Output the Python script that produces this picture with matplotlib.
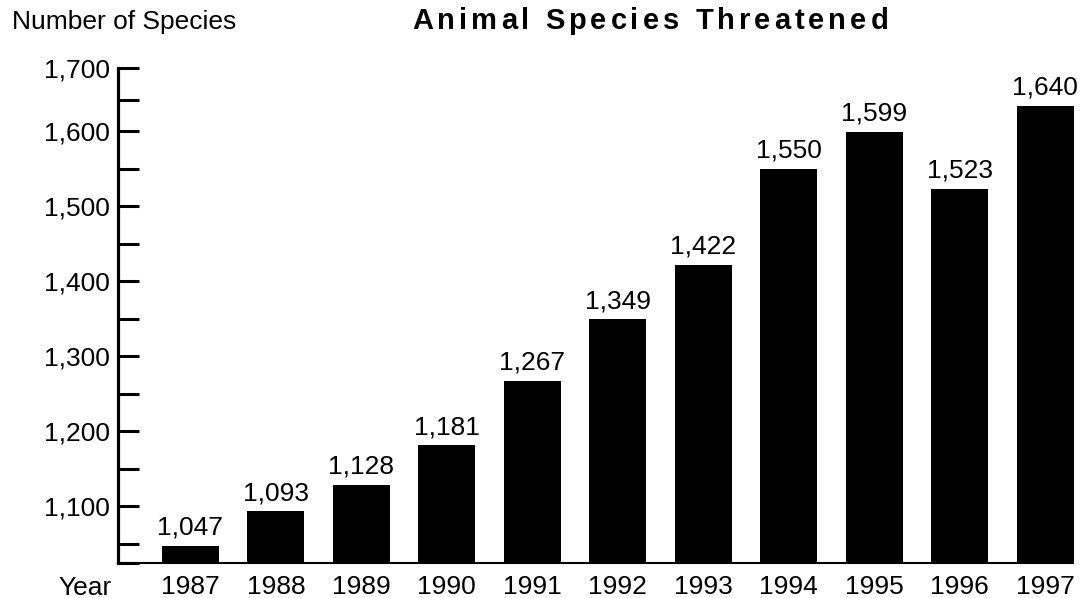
import matplotlib
matplotlib.use("Agg")
import matplotlib.pyplot as plt
import numpy as np
from matplotlib.ticker import FixedLocator
from matplotlib.font_manager import FontProperties

years = ["1987", "1988", "1989", "1990", "1991", "1992", "1993", "1994", "1995", "1996", "1997"]
species = [1047, 1093, 1128, 1181, 1267, 1349, 1422, 1550, 1599, 1523, 1640]
value_labels = ["1,047", "1,093", "1,128", "1,181", "1,267", "1,349", "1,422", "1,550", "1,599", "1,523", "1,640"]
y_ticks = [1100, 1200, 1300, 1400, 1500, 1600, 1700]
y_tick_labels = ["1,100", "1,200", "1,300", "1,400", "1,500", "1,600", "1,700"]
y_minor = [1050, 1150, 1250, 1350, 1450, 1550, 1650]

plt.rcParams['font.family'] = ['Liberation Sans', 'DejaVu Sans']
FS = 19

W, H = 1085, 598
fig = plt.figure(figsize=(W / 100, H / 100), dpi=100)
ax = fig.add_axes([118 / W, 1 - 563 / H, (1075 - 118) / W, (563 - 68) / H])

# the reference compresses the top segment of the axis (1,600 - 1,700)
K = 0.84
def fwd(y):
    y = np.asarray(y, dtype=float)
    return np.where(y <= 1600, y, 1600 + (y - 1600) * K)
def inv(y):
    y = np.asarray(y, dtype=float)
    return np.where(y <= 1600, y, 1600 + (y - 1600) / K)
ax.set_yscale('function', functions=(fwd, inv))

x = list(range(len(years)))
ax.bar(x, species, width=0.667, color="black")
ax.set_ylim(1024, 1700)
ax.set_xlim(-0.848, 10.35)

for xi, v, lab in zip(x, species, value_labels):
    ax.annotate(lab, (xi, v), xytext=(0, 4.5), textcoords="offset points",
                ha="center", va="bottom", fontsize=FS)

for s in ["top", "right"]:
    ax.spines[s].set_visible(False)
ax.spines["left"].set_linewidth(2.3)
ax.spines["bottom"].set_linewidth(1.5)
ax.spines["bottom"].set_bounds(-0.848, 10.33)

ax.yaxis.set_major_locator(FixedLocator(y_ticks))
ax.set_yticklabels(y_tick_labels)
ax.yaxis.set_minor_locator(FixedLocator(y_minor))
ax.tick_params(axis="y", which="both", direction="in", length=15, width=2.2, labelsize=FS, pad=6)
ax.tick_params(axis="x", length=0, labelsize=FS, pad=8.5)
ax.set_xticks(x)
ax.set_xticklabels(years)
# short thick stub at the foot of the y axis
ax.plot([-0.848, -0.848 + 21 / 85.45], [1024, 1024], color="black", lw=2.2,
        solid_capstyle="butt", clip_on=False)

fig.text(112 / W, 1 - 576 / H, "Year", ha="right", va="top", fontsize=FS)
fig.text(12 / W, 1 - 22 / H, "Number of Species", ha="left", va="center", fontsize=FS)

# letter-spaced bold title
title = "Animal Species Threatened"
TFS = 21
fp = FontProperties(family="Liberation Sans", weight="bold", size=TFS)
renderer = fig.canvas.get_renderer()
def wpx(s):
    return renderer.get_text_width_height_descent(s, fp, ismath=False)[0]
base = wpx("HH")
adv = [wpx("H" + c + "H") - base for c in title]
spacing = 4.0
total = sum(adv) + spacing * (len(title) - 1)
cur = 650 - total / 2
for c, a in zip(title, adv):
    if c != " ":
        fig.text(cur / W, 1 - 21 / H, c, ha="left", va="center", fontproperties=fp)
    cur += a + spacing

fig.savefig("out.png", dpi=100)
